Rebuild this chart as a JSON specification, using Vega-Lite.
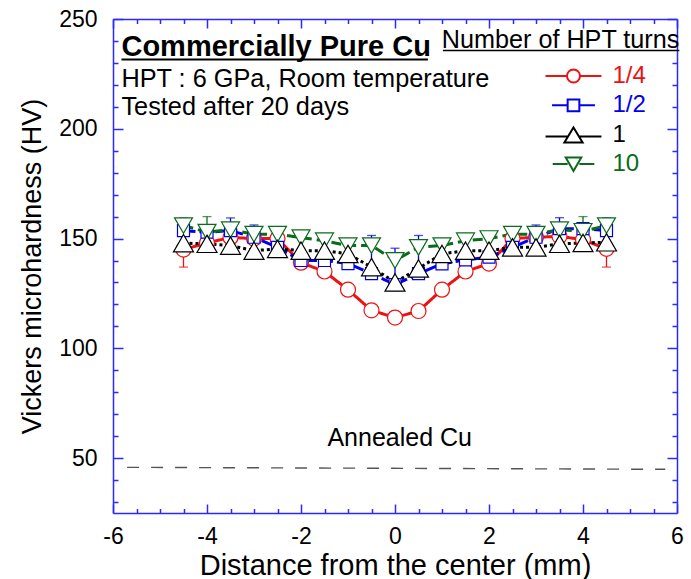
{
  "$schema": "https://vega.github.io/schema/vega-lite/v6.json",
  "width": 564,
  "height": 494,
  "autosize": "none",
  "padding": {"left": 113, "top": 19, "right": 14, "bottom": 66},
  "background": "white",
  "config": {
    "view": {"stroke": null},
    "font": "Liberation Sans",
    "axis": {
      "domainColor": "#2a2aff", "tickColor": "#2a2aff", "domainWidth": 1.5, "tickWidth": 1.5,
      "labelFont": "Liberation Sans", "labelFontSize": 23, "labelColor": "black", "labelFlush": false,
      "titleFont": "Liberation Sans", "titleFontSize": 27, "titleFontWeight": "normal", "titleColor": "black",
      "grid": false
    },
    "legend": {"padding": 0}
  },
  "datasets": {
    "pts": [
      {"s": "1/4", "x": -4.5, "hv": 145}, {"s": "1/4", "x": -4, "hv": 148}, {"s": "1/4", "x": -3.5, "hv": 150.5}, {"s": "1/4", "x": -3, "hv": 150}, {"s": "1/4", "x": -2.5, "hv": 150}, {"s": "1/4", "x": -2, "hv": 139}, {"s": "1/4", "x": -1.5, "hv": 135}, {"s": "1/4", "x": -1, "hv": 126.7}, {"s": "1/4", "x": -0.5, "hv": 117.3}, {"s": "1/4", "x": 0, "hv": 114}, {"s": "1/4", "x": 0.5, "hv": 117}, {"s": "1/4", "x": 1, "hv": 126.7}, {"s": "1/4", "x": 1.5, "hv": 135}, {"s": "1/4", "x": 2, "hv": 138.6}, {"s": "1/4", "x": 2.5, "hv": 150}, {"s": "1/4", "x": 3, "hv": 150.6}, {"s": "1/4", "x": 3.5, "hv": 151}, {"s": "1/4", "x": 4, "hv": 149.5}, {"s": "1/4", "x": 4.5, "hv": 145.3},
      {"s": "1/2", "x": -4.5, "hv": 153.6}, {"s": "1/2", "x": -4, "hv": 152.9}, {"s": "1/2", "x": -3.5, "hv": 153.6}, {"s": "1/2", "x": -3, "hv": 150.6}, {"s": "1/2", "x": -2.5, "hv": 146}, {"s": "1/2", "x": -2, "hv": 140}, {"s": "1/2", "x": -1.5, "hv": 140}, {"s": "1/2", "x": -1, "hv": 138.6}, {"s": "1/2", "x": -0.5, "hv": 134}, {"s": "1/2", "x": 0, "hv": 129}, {"s": "1/2", "x": 0.5, "hv": 134}, {"s": "1/2", "x": 1, "hv": 138.5}, {"s": "1/2", "x": 1.5, "hv": 140.3}, {"s": "1/2", "x": 2, "hv": 141.5}, {"s": "1/2", "x": 2.5, "hv": 146}, {"s": "1/2", "x": 3, "hv": 150.6}, {"s": "1/2", "x": 3.5, "hv": 154.5}, {"s": "1/2", "x": 4, "hv": 154.5}, {"s": "1/2", "x": 4.5, "hv": 153.6},
      {"s": "10", "x": -4.5, "hv": 155.9}, {"s": "10", "x": -4, "hv": 152.9}, {"s": "10", "x": -3.5, "hv": 154}, {"s": "10", "x": -3, "hv": 152}, {"s": "10", "x": -2.5, "hv": 152}, {"s": "10", "x": -2, "hv": 150.4}, {"s": "10", "x": -1.5, "hv": 149}, {"s": "10", "x": -1, "hv": 146.8}, {"s": "10", "x": -0.5, "hv": 146.8}, {"s": "10", "x": 0, "hv": 140}, {"s": "10", "x": 0.5, "hv": 146}, {"s": "10", "x": 1, "hv": 146.8}, {"s": "10", "x": 1.5, "hv": 149}, {"s": "10", "x": 2, "hv": 150}, {"s": "10", "x": 2.5, "hv": 152}, {"s": "10", "x": 3, "hv": 152}, {"s": "10", "x": 3.5, "hv": 154}, {"s": "10", "x": 4, "hv": 153.3}, {"s": "10", "x": 4.5, "hv": 155.9},
      {"s": "1", "x": -4.5, "hv": 147.9}, {"s": "1", "x": -4, "hv": 147.6}, {"s": "1", "x": -3.5, "hv": 146.8}, {"s": "1", "x": -3, "hv": 144.5}, {"s": "1", "x": -2.5, "hv": 145.3}, {"s": "1", "x": -2, "hv": 144.5}, {"s": "1", "x": -1.5, "hv": 144.5}, {"s": "1", "x": -1, "hv": 143}, {"s": "1", "x": -0.5, "hv": 137}, {"s": "1", "x": 0, "hv": 130}, {"s": "1", "x": 0.5, "hv": 136.4}, {"s": "1", "x": 1, "hv": 143}, {"s": "1", "x": 1.5, "hv": 144.5}, {"s": "1", "x": 2, "hv": 144.5}, {"s": "1", "x": 2.5, "hv": 146}, {"s": "1", "x": 3, "hv": 146}, {"s": "1", "x": 3.5, "hv": 147.6}, {"s": "1", "x": 4, "hv": 148}, {"s": "1", "x": 4.5, "hv": 148.3}
    ],
    "errs": [
      {"s": "1/4", "x": -4.5, "hv": 145, "end": 137}, {"s": "1/4", "x": 4.5, "hv": 145.3, "end": 137},
      {"s": "1/2", "x": -4.5, "hv": 153.6, "end": 159.4}, {"s": "1/2", "x": -3.5, "hv": 153.6, "end": 159.4}, {"s": "1/2", "x": -3, "hv": 150.6, "end": 156.2},
      {"s": "1/2", "x": -0.5, "hv": 134, "end": 151.4}, {"s": "1/2", "x": 0, "hv": 129, "end": 145.6}, {"s": "1/2", "x": 0.5, "hv": 134, "end": 151.4},
      {"s": "1/2", "x": 3, "hv": 150.6, "end": 156.2}, {"s": "1/2", "x": 3.5, "hv": 154.5, "end": 159.5}, {"s": "1/2", "x": 4.5, "hv": 153.6, "end": 159.5},
      {"s": "10", "x": -4, "hv": 152.9, "end": 160}, {"s": "10", "x": 4, "hv": 153.3, "end": 160}
    ],
    "annealed": [{"x": -5.7, "hv": 45.8}, {"x": 5.75, "hv": 44.9}],
    "one": [{}]
  },
  "resolve": {"axis": {"x": "independent", "y": "independent"}},
  "layer": [
    {
      "data": {"name": "annealed"},
      "mark": {"type": "line", "color": "#555555", "strokeWidth": 1.4, "strokeDash": [12, 12]},
      "encoding": {
        "x": {"field": "x", "type": "quantitative", "scale": {"domain": [-6, 6], "nice": false, "zero": false},
          "axis": {"orient": "bottom", "values": [-6, -4, -2, 0, 2, 4, 6], "tickSize": -9, "labelPadding": 21, "labelExpr": "datum.value < 0 ? '-' + abs(datum.value) : '' + datum.value", "title": "Distance from the center (mm)", "titleFontSize": 29, "titlePadding": 3}},
        "y": {"field": "hv", "type": "quantitative", "scale": {"domain": [25, 250], "nice": false, "zero": false},
          "axis": {"orient": "left", "values": [50, 100, 150, 200, 250], "tickSize": -10, "labelPadding": 26, "title": "Vickers microhardness (HV)", "titlePadding": 12}}
      }
    },
    {
      "data": {"name": "errs"},
      "mark": {"type": "rule", "strokeWidth": 1.3},
      "encoding": {
        "x": {"field": "x", "type": "quantitative", "scale": {"domain": [-6, 6], "nice": false, "zero": false},
          "axis": {"orient": "top", "values": [-6, -4, -2, 0, 2, 4, 6], "tickSize": -9, "labels": false, "title": null}},
        "y": {"field": "hv", "type": "quantitative", "scale": {"domain": [25, 250], "nice": false, "zero": false},
          "axis": {"orient": "right", "values": [50, 100, 150, 200, 250], "tickSize": -10, "labels": false, "title": null}},
        "y2": {"field": "end"},
        "stroke": {"field": "s", "type": "nominal", "scale": {"domain": ["1", "10", "1/4", "1/2"], "range": ["#000000", "#0b6b1a", "#ee1111", "#0000ee"]}, "legend": null}
      }
    },
    {
      "data": {"name": "errs"},
      "mark": {"type": "tick", "orient": "horizontal", "size": 9, "thickness": 1.3},
      "encoding": {
        "x": {"field": "x", "type": "quantitative", "scale": {"domain": [-6, 6], "nice": false, "zero": false},
          "axis": {"orient": "bottom", "values": [-5.5, -5, -4.5, -3.5, -3, -2.5, -1.5, -1, -0.5, 0.5, 1, 1.5, 2.5, 3, 3.5, 4.5, 5, 5.5], "tickSize": -4.5, "labels": false, "domain": false, "title": null}},
        "y": {"field": "end", "type": "quantitative", "scale": {"domain": [25, 250], "nice": false, "zero": false},
          "axis": {"orient": "left", "values": [30, 40, 60, 70, 80, 90, 110, 120, 130, 140, 160, 170, 180, 190, 210, 220, 230, 240], "tickSize": -5, "labels": false, "domain": false, "title": null}},
        "fill": {"field": "s", "type": "nominal", "scale": {"domain": ["1", "10", "1/4", "1/2"], "range": ["#000000", "#0b6b1a", "#ee1111", "#0000ee"]}, "legend": null}
      }
    },
    {
      "data": {"name": "pts"},
      "mark": {"type": "line", "strokeWidth": 3},
      "encoding": {
        "x": {"field": "x", "type": "quantitative", "scale": {"domain": [-6, 6], "nice": false, "zero": false},
          "axis": {"orient": "top", "values": [-5.5, -5, -4.5, -3.5, -3, -2.5, -1.5, -1, -0.5, 0.5, 1, 1.5, 2.5, 3, 3.5, 4.5, 5, 5.5], "tickSize": -4.5, "labels": false, "domain": false, "title": null}},
        "y": {"field": "hv", "type": "quantitative", "scale": {"domain": [25, 250], "nice": false, "zero": false},
          "axis": {"orient": "right", "values": [30, 40, 60, 70, 80, 90, 110, 120, 130, 140, 160, 170, 180, 190, 210, 220, 230, 240], "tickSize": -5, "labels": false, "domain": false, "title": null}},
        "stroke": {"field": "s", "type": "nominal", "scale": {"domain": ["1", "10", "1/4", "1/2"], "range": ["#000000", "#0b6b1a", "#ee1111", "#0000ee"]}, "legend": null},
        "strokeDash": {"field": "s", "type": "nominal", "scale": {"domain": ["1", "10", "1/4", "1/2"], "range": [[3, 3], [10, 5], [1, 0], [12, 4]]}, "legend": null}
      }
    },
    {
      "data": {"name": "pts"},
      "mark": {"type": "point", "filled": false, "fill": "white", "fillOpacity": 1, "opacity": 1, "strokeWidth": 1.2, "size": 400},
      "encoding": {
        "x": {"field": "x", "type": "quantitative", "scale": {"domain": [-6, 6], "nice": false, "zero": false}, "axis": null},
        "y": {"field": "hv", "type": "quantitative", "scale": {"domain": [25, 250], "nice": false, "zero": false}, "axis": null},
        "color": {"field": "s", "type": "nominal",
          "scale": {"domain": ["1/4", "1/2", "1", "10"], "range": ["#ee1111", "#0000ee", "#000000", "#0b6b1a"]},
          "legend": {
            "title": null, "orient": "none", "legendX": 448.5, "legendY": 45,
            "labelFont": "Liberation Sans", "labelFontSize": 24, "labelOffset": 27, "symbolSize": 169, "rowPadding": 5.3,
            "symbolFillColor": "white", "symbolStrokeWidth": 2, "symbolOpacity": 1,
            "symbolType": {"expr": "datum.value === '1/4' ? 'M-4.3,0H-1M1,0H4.3M-1,0A1,1,0,1,0,1,0A1,1,0,1,0,-1,0' : datum.value === '1/2' ? 'M-3.3,0H-0.9M0.9,0H3.3M-0.9,-0.9H0.9V0.9H-0.9Z' : datum.value === '1' ? 'M-4.3,0.3H-0.85M0.85,0.3H4.3M0,-1.1L1.4,1.2L-1.4,1.2Z' : 'M-3.2,0H-0.9M0.9,0H3.2M-1.2,-1L1.2,-1L0,1.1Z'"},
            "labelColor": {"expr": "datum.value === '1/4' ? '#ee1111' : datum.value === '1/2' ? '#0000ee' : datum.value === '1' ? '#000000' : '#0b6b1a'"}
          }
        },
        "shape": {"field": "s", "type": "nominal", "scale": {"domain": ["1", "10", "1/4", "1/2"], "range": ["M0,-0.87L1,0.87L-1,0.87Z", "M-0.9,-0.78L0.9,-0.78L0,0.78Z", "M-0.75,0A0.75,0.75,0,1,0,0.75,0A0.75,0.75,0,1,0,-0.75,0Z", "M-0.6,-0.6L0.6,-0.6L0.6,0.6L-0.6,0.6Z"]}, "legend": null}
      }
    },
    {
      "data": {"name": "one"},
      "mark": {"type": "text", "text": "Commercially Pure Cu", "align": "left", "baseline": "alphabetic", "fontSize": 29, "fontWeight": "bold", "font": "Liberation Sans", "color": "black"},
      "encoding": {
        "x": {"datum": -5.82, "type": "quantitative", "axis": null},
        "y": {"datum": 233.2, "type": "quantitative", "axis": null}
      }
    },
    {
      "data": {"name": "one"},
      "mark": {"type": "rule", "color": "black", "strokeWidth": 2},
      "encoding": {
        "x": {"datum": -5.82, "type": "quantitative", "axis": null},
        "x2": {"datum": 0.7},
        "y": {"datum": 231.6, "type": "quantitative", "axis": null}
      }
    },
    {
      "data": {"name": "one"},
      "mark": {"type": "text", "text": "HPT : 6 GPa, Room temperature", "align": "left", "baseline": "alphabetic", "fontSize": 25.3, "font": "Liberation Sans", "color": "black"},
      "encoding": {
        "x": {"datum": -5.82, "type": "quantitative", "axis": null},
        "y": {"datum": 219.1, "type": "quantitative", "axis": null}
      }
    },
    {
      "data": {"name": "one"},
      "mark": {"type": "text", "text": "Tested after 20 days", "align": "left", "baseline": "alphabetic", "fontSize": 25.3, "font": "Liberation Sans", "color": "black"},
      "encoding": {
        "x": {"datum": -5.82, "type": "quantitative", "axis": null},
        "y": {"datum": 206.4, "type": "quantitative", "axis": null}
      }
    },
    {
      "data": {"name": "one"},
      "mark": {"type": "text", "text": "Number of HPT turns", "align": "right", "baseline": "alphabetic", "fontSize": 25.2, "font": "Liberation Sans", "color": "black"},
      "encoding": {
        "x": {"datum": 6.05, "type": "quantitative", "axis": null},
        "y": {"datum": 236.8, "type": "quantitative", "axis": null}
      }
    },
    {
      "data": {"name": "one"},
      "mark": {"type": "rule", "color": "black", "strokeWidth": 1.5},
      "encoding": {
        "x": {"datum": 1.02, "type": "quantitative", "axis": null},
        "x2": {"datum": 6.05},
        "y": {"datum": 235.6, "type": "quantitative", "axis": null}
      }
    },
    {
      "data": {"name": "one"},
      "mark": {"type": "text", "text": "Annealed Cu", "align": "center", "baseline": "alphabetic", "fontSize": 25, "font": "Liberation Sans", "color": "black"},
      "encoding": {
        "x": {"datum": 0.1, "type": "quantitative", "axis": null},
        "y": {"datum": 55.5, "type": "quantitative", "axis": null}
      }
    }
  ]
}
